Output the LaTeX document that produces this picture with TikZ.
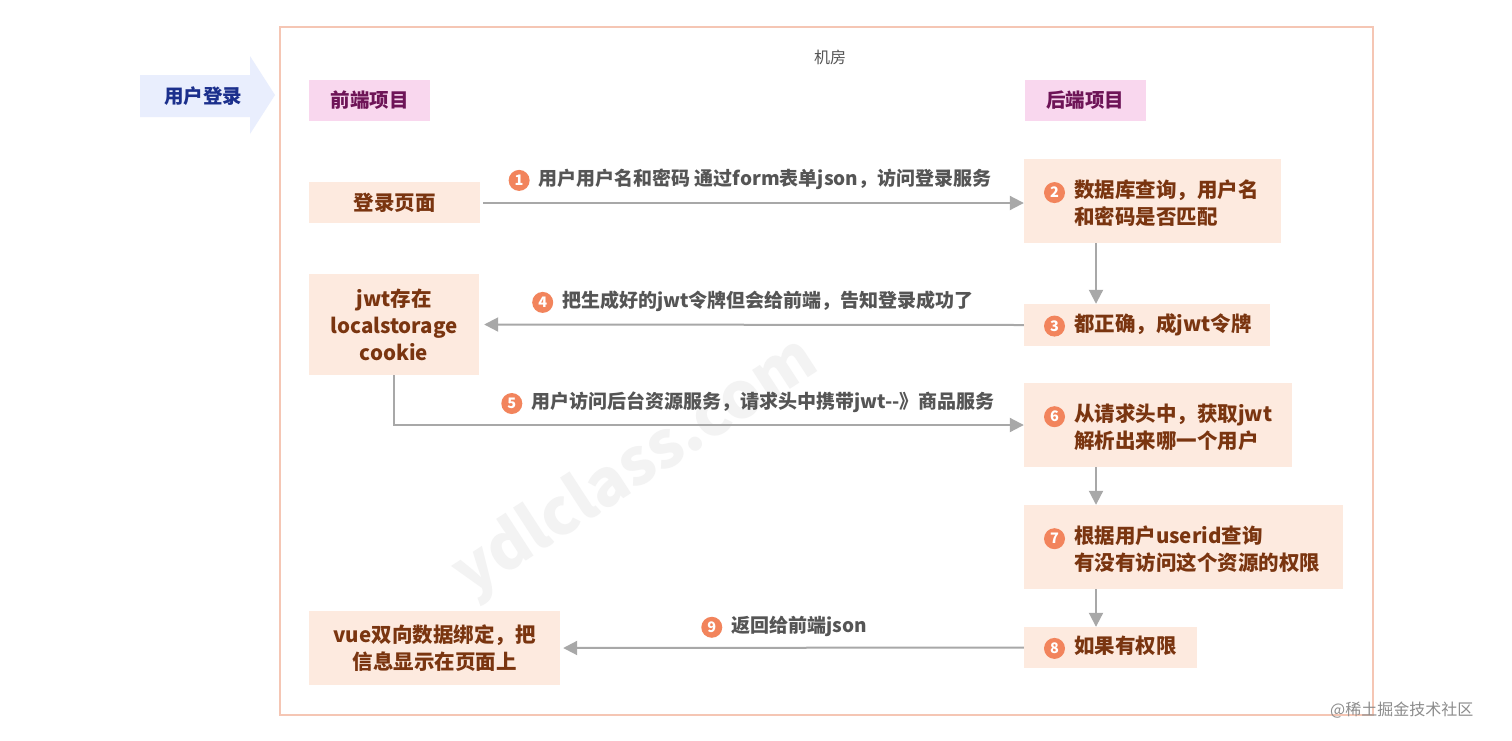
\documentclass[tikz,border=0pt]{standalone}
\usepackage{fontspec}
\setmainfont{Noto Sans CJK SC}
\usetikzlibrary{arrows.meta,calc}
\definecolor{framec}{HTML}{F5C6B4}
\definecolor{boxfill}{HTML}{FDEADF}
\definecolor{boxtext}{HTML}{7A3510}
\definecolor{lbltext}{HTML}{555555}
\definecolor{numc}{HTML}{F2845C}
\definecolor{arrc}{HTML}{A8A8A8}
\definecolor{pinkfill}{HTML}{F9D7EE}
\definecolor{pinktext}{HTML}{6E1457}
\definecolor{bluefill}{HTML}{E9EEFD}
\definecolor{bluetext}{HTML}{1B2F8C}
\definecolor{wmark}{HTML}{F3F3F3}
\tikzset{
  numcirc/.style={circle,fill=numc,inner sep=0pt,minimum size=21pt,text width={},text=white,font=\fontsize{14.5}{14.5}\selectfont\bfseries},
  stepnode/.style={fill=boxfill,text=boxtext,font=\fontsize{20.5}{27}\selectfont\bfseries,inner ysep=0pt},
  leftnode/.style={stepnode,inner xsep=20pt,align=left},
  centnode/.style={stepnode,inner xsep=0pt,align=center},
  headnode/.style={fill=pinkfill,text=pinktext,font=\fontsize{19.5}{24}\selectfont\bfseries,minimum width=121pt,minimum height=41pt,inner sep=0pt},
  lbl/.style={text=lbltext,font=\fontsize{19}{22}\selectfont\bfseries,inner sep=0pt},
  conn/.style={draw=arrc,line width=2pt,-{Triangle[length=14pt,width=14pt]}},
}
\newcommand\numc[1]{\tikz[baseline=(nc.base)]\node[numcirc](nc){#1};\kern9pt}
\newcommand\twol[3]{\begin{tabular}{@{}l@{}l@{}}\numc{#1}&\rule{0pt}{29pt}#2\\&#3\end{tabular}}
\begin{document}
\begin{tikzpicture}[x=1pt,y=-1pt]
\useasboundingbox[fill=white] (0,0) rectangle (1512,740);
% watermark
\node[text=wmark,font=\fontsize{64}{64}\selectfont\bfseries,rotate=33] (wm) at (636,468) {ydlclass.com};
% frame
\draw[framec,line width=1.2pt] (280,27) rectangle (1373,715);
\node[text=lbltext,font=\fontsize{16}{18}\selectfont,inner sep=0pt] (room) at (830,57) {机房};
% user login arrow
\fill[bluefill] (140,75) -- (250,75) -- (250,56) -- (275,95) -- (250,134) -- (250,117) -- (140,117) -- cycle;
\node[text=bluetext,font=\fontsize{19.5}{24}\selectfont\bfseries,inner sep=0pt] (login0) at (203,96) {用户登录};
% headers
\node[headnode] (fe) at (369.5,100.5) {前端项目};
\node[headnode] (be) at (1085,100.5) {后端项目};
% front-end boxes
\node[centnode,minimum width=171pt,minimum height=41pt] (page) at (394.5,202.5) {登录页面};
\node[centnode,minimum width=170pt,minimum height=101pt] (jwt) at (394,324.5) {jwt存在\\localstorage\\cookie};
\node[centnode,minimum width=251pt,minimum height=74pt] (vue) at (434.5,648) {vue双向数据绑定，把\\信息显示在页面上};
% back-end boxes
\node[leftnode,text width=217pt,minimum height=84pt] (n2) at (1152.5,201) {\twol{2}{数据库查询，用户名}{和密码是否匹配}};
\node[leftnode,text width=206pt,minimum height=42pt] (n3) at (1147,325) {\numc{3}都正确，成jwt令牌};
\node[leftnode,text width=228pt,minimum height=84pt] (n6) at (1158,425) {\twol{6}{从请求头中，获取jwt}{解析出来哪一个用户}};
\node[leftnode,text width=279pt,minimum height=84pt] (n7) at (1183.5,547) {\twol{7}{根据用户userid查询}{有没有访问这个资源的权限}};
\node[leftnode,text width=133pt,minimum height=41pt] (n8) at (1110.5,647.5) {\numc{8}如果有权限};
% connectors
\coordinate (vx) at (1096,0);
\draw[conn] ($(page.east)+(3,0.5)$) coordinate (p1) -- (p1 -| n2.west);
\draw[conn] (n2.south -| vx) -- (n3.north -| vx);
\draw[conn] (n3.west) -- ($(jwt.east)+(5,0)$);
\draw[conn] (jwt.south) |- (n6.west);
\draw[conn] (n6.south -| vx) -- (n7.north -| vx);
\draw[conn] (n7.south -| vx) -- (n8.north -| vx);
\draw[conn] (n8.west) -- ($(vue.east)+(3,0)$);
% labels
\node[lbl] (l1) at (750,180) {\numc{1}用户用户名和密码 通过form表单json，访问登录服务};
\node[lbl] (l4) at (753,302) {\numc{4}把生成好的jwt令牌但会给前端，告知登录成功了};
\node[lbl] (l5) at (748,403) {\numc{5}用户访问后台资源服务，请求头中携带jwt-{}-》商品服务};
\node[lbl] (l9) at (784,627) {\numc{9}返回给前端json};
% site watermark
\node[text=black!45,font=\fontsize{16}{18}\selectfont,inner sep=0pt,anchor=west] (site) at (1330,710) {@稀土掘金技术社区};
\end{tikzpicture}
\end{document}
